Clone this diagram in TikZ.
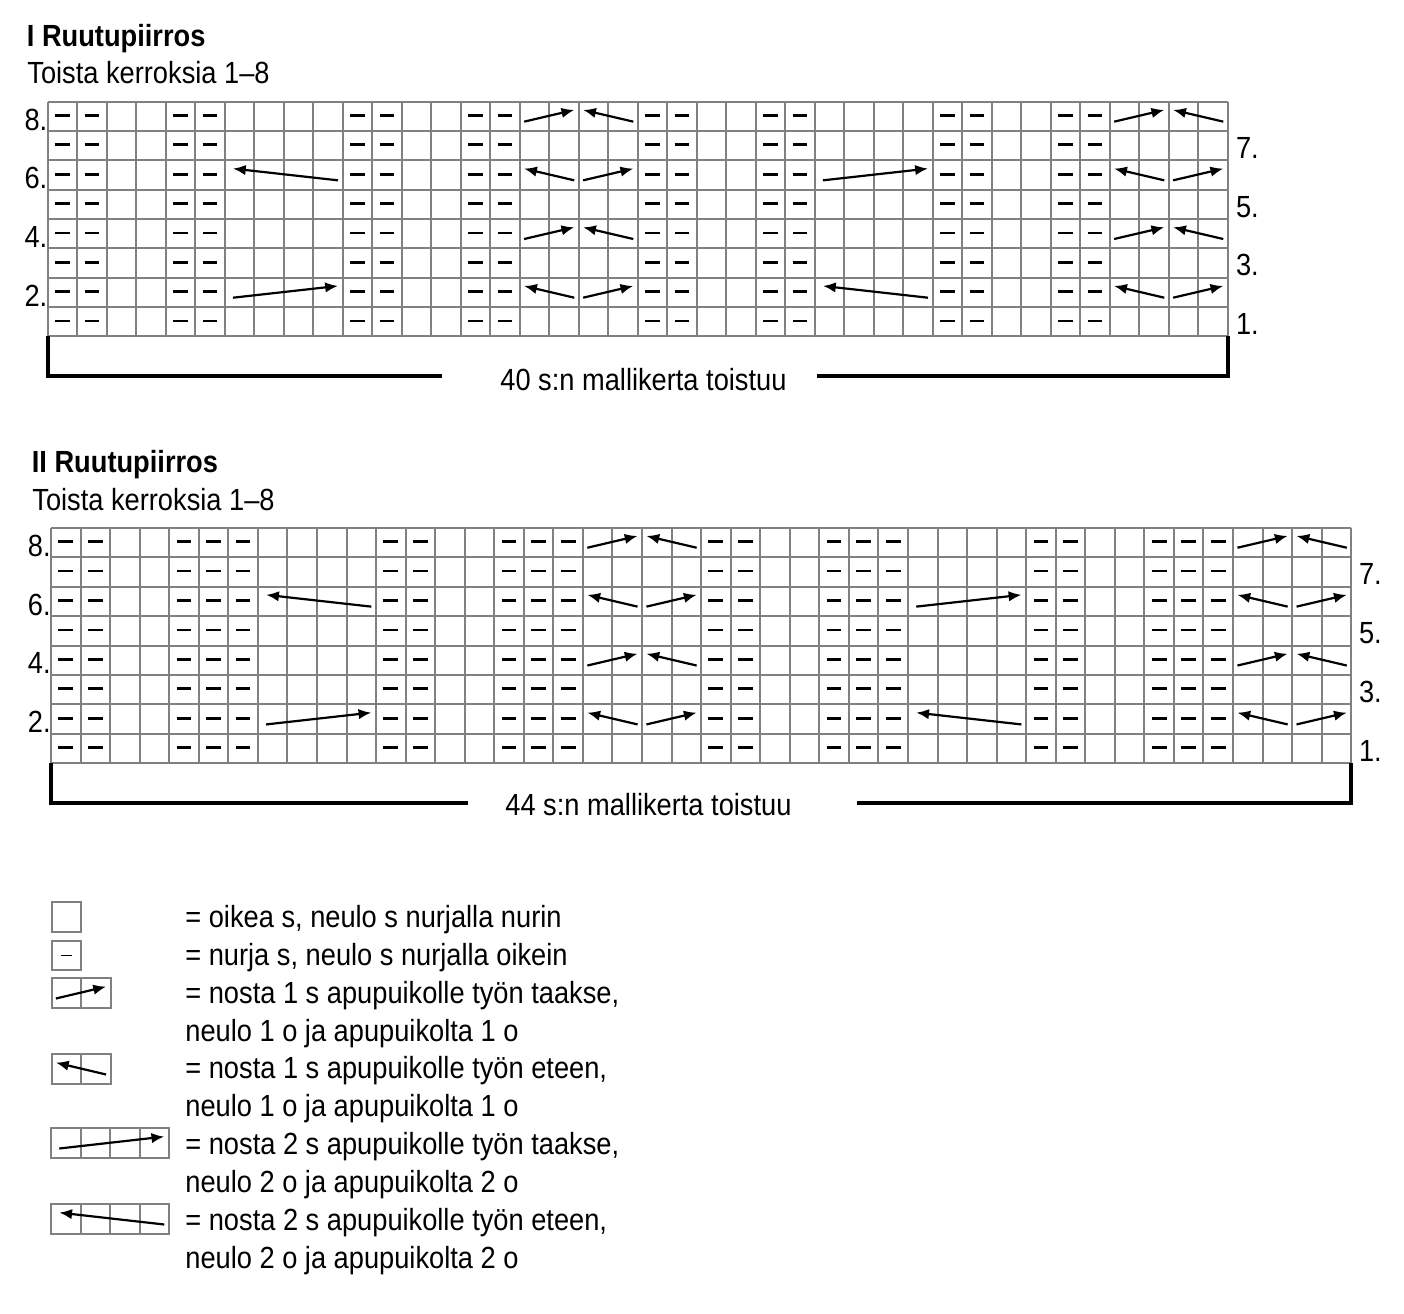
\documentclass[tikz,border=0pt]{standalone}
\usepackage{fontspec}
\setmainfont{Liberation Sans}[FakeStretch=0.89]
\usepackage{tikz}
\usetikzlibrary{arrows.meta}

\definecolor{gridgray}{RGB}{128,128,128}

\tikzset{
    gridline/.style={draw=gridgray, line width=1pt},
    purl/.style={line width=1.35pt},
    cable/.style={line width=1.1pt, -{Latex[length=6.4pt,width=5.2pt]}},
    bracket/.style={line width=1.9pt},
    txt/.style={font=\fontsize{15.3}{18}\selectfont, inner sep=0pt},
    ttl/.style={txt, font=\fontsize{15.3}{18}\selectfont\bfseries}
}

\newcommand{\cabR}[3]{\draw[cable] (#1,#3-0.32) -- (#2,#3-0.72);}
\newcommand{\cabL}[3]{\draw[cable] (#2,#3-0.32) -- (#1,#3-0.72);}

\begin{document}
\begin{tikzpicture}[x=0.5pt,y=-0.5pt]
                \useasboundingbox (0,0) rectangle (1404,1313);

                \node[ttl, anchor=base west] (ttlI) at (26.5,46.7) {I Ruutupiirros};
                \node[txt, anchor=base west] (subI) at (27,83.3) {Toista kerroksia 1–8};

                \begin{scope}[shift={(47.7,101.7)}, x=14.75pt, y=-14.67pt]
                    \foreach \c in {0,...,40}
                        \draw[gridline] (\c,0) -- (\c,8);
                    \foreach \r in {0,...,8}
                        \draw[gridline] (0,\r) -- (40,\r);
                    \foreach \c in {1,2,5,6,11,12,15,16,21,22,25,26,31,32,35,36}
                        \foreach \r in {1,...,8}
                            \draw[purl] (\c-0.75,\r-0.53) -- (\c-0.25,\r-0.53);
                    \cabL{6.28}{9.84}{3}
                    \cabR{6.28}{9.84}{7}
                    \cabR{26.28}{29.84}{3}
                    \cabL{26.28}{29.84}{7}
                    \foreach \a in {16,36} {
                        \foreach \r in {1,5} {
                            \cabR{\a+0.15}{\a+1.85}{\r}
                            \cabL{\a+2.15}{\a+3.85}{\r}
                        }
                        \foreach \r in {3,7} {
                            \cabL{\a+0.15}{\a+1.85}{\r}
                            \cabR{\a+2.15}{\a+3.85}{\r}
                        }
                    }
                    \foreach \n/\r in {8/1,6/3,4/5,2/7}
                        \node[txt, anchor=base east] (lI\n) at (0,\r-0.035) {\n.};
                    \foreach \n/\r in {7/2,5/4,3/6,1/8}
                        \node[txt, anchor=base west] (rI\n) at (40.27,\r-0.07) {\n.};
                    \coordinate (gIsw) at (0,8);
                    \coordinate (gIse) at (40,8);
                \end{scope}

                \node[txt, anchor=base west] (repI) at (500,390) {40 s:n mallikerta toistuu};
                \coordinate (bIa) at (441.7,376);
                \coordinate (bIb) at (816.7,376);
                \draw[bracket] (gIsw) |- (bIa);
                \draw[bracket] (bIb) -| (gIse);

                \node[ttl, anchor=base west] (ttlII) at (31.5,472.7) {II Ruutupiirros};
                \node[txt, anchor=base west] (subII) at (32,510) {Toista kerroksia 1–8};

                \begin{scope}[shift={(51,527.7)}, x=14.775pt, y=-14.725pt]
                    \foreach \c in {0,...,44}
                        \draw[gridline] (\c,0) -- (\c,8);
                    \foreach \r in {0,...,8}
                        \draw[gridline] (0,\r) -- (44,\r);
                    \foreach \c in {1,2,5,6,7,12,13,16,17,18,23,24,27,28,29,34,35,38,39,40}
                        \foreach \r in {1,...,8}
                            \draw[purl] (\c-0.75,\r-0.53) -- (\c-0.25,\r-0.53);
                    \cabL{7.28}{10.84}{3}
                    \cabR{7.28}{10.84}{7}
                    \cabR{29.28}{32.84}{3}
                    \cabL{29.28}{32.84}{7}
                    \foreach \a in {18,40} {
                        \foreach \r in {1,5} {
                            \cabR{\a+0.15}{\a+1.85}{\r}
                            \cabL{\a+2.15}{\a+3.85}{\r}
                        }
                        \foreach \r in {3,7} {
                            \cabL{\a+0.15}{\a+1.85}{\r}
                            \cabR{\a+2.15}{\a+3.85}{\r}
                        }
                    }
                    \foreach \n/\r in {8/1,6/3,4/5,2/7}
                        \node[txt, anchor=base east] (lII\n) at (0,\r-0.035) {\n.};
                    \foreach \n/\r in {7/2,5/4,3/6,1/8}
                        \node[txt, anchor=base west] (rII\n) at (44.25,\r-0.07) {\n.};
                    \coordinate (gIIsw) at (0,8);
                    \coordinate (gIIse) at (44,8);
                \end{scope}

                \node[txt, anchor=base west] (repII) at (505,815.5) {44 s:n mallikerta toistuu};
                \coordinate (bIIa) at (468,803);
                \coordinate (bIIb) at (856.7,803);
                \draw[bracket] (gIIsw) |- (bIIa);
                \draw[bracket] (bIIb) -| (gIIse);

                \draw[gridline] (51.5,902) rectangle (81,931.7);
                \draw[gridline] (51.5,940.7) rectangle (81,970.4);
                \draw[line width=0.9pt] (60.5,955.5) -- (72,955.5);
                \begin{scope}[shift={(51.5,978.3)}, x=14.75pt, y=-14.85pt]
                    \draw[gridline] (0,0) rectangle (2,1);
                    \draw[gridline] (1,0) -- (1,1);
                    \cabR{0.15}{1.85}{1}
                \end{scope}
                \begin{scope}[shift={(51.5,1054.3)}, x=14.75pt, y=-14.85pt]
                    \draw[gridline] (0,0) rectangle (2,1);
                    \draw[gridline] (1,0) -- (1,1);
                    \cabL{0.15}{1.85}{1}
                \end{scope}
                \begin{scope}[shift={(51,1128.3)}, x=14.75pt, y=-14.85pt]
                    \draw[gridline] (0,0) rectangle (4,1);
                    \foreach \c in {1,2,3}
                        \draw[gridline] (\c,0) -- (\c,1);
                    \cabR{0.28}{3.84}{1}
                \end{scope}
                \begin{scope}[shift={(51,1204.3)}, x=14.75pt, y=-14.85pt]
                    \draw[gridline] (0,0) rectangle (4,1);
                    \foreach \c in {1,2,3}
                        \draw[gridline] (\c,0) -- (\c,1);
                    \cabL{0.28}{3.84}{1}
                \end{scope}

                \foreach \k/\s in {0/{= oikea s, neulo s nurjalla nurin},
                                   1/{= nurja s, neulo s nurjalla oikein},
                                   2/{= nosta 1 s apupuikolle työn taakse,},
                                   3/{neulo 1 o ja apupuikolta 1 o},
                                   4/{= nosta 1 s apupuikolle työn eteen,},
                                   5/{neulo 1 o ja apupuikolta 1 o},
                                   6/{= nosta 2 s apupuikolle työn taakse,},
                                   7/{neulo 2 o ja apupuikolta 2 o},
                                   8/{= nosta 2 s apupuikolle työn eteen,},
                                   9/{neulo 2 o ja apupuikolta 2 o}}
                    \node[txt, anchor=base west] (leg\k) at (185,927.3+37.9*\k) {\s};
            \end{tikzpicture}
\end{document}
